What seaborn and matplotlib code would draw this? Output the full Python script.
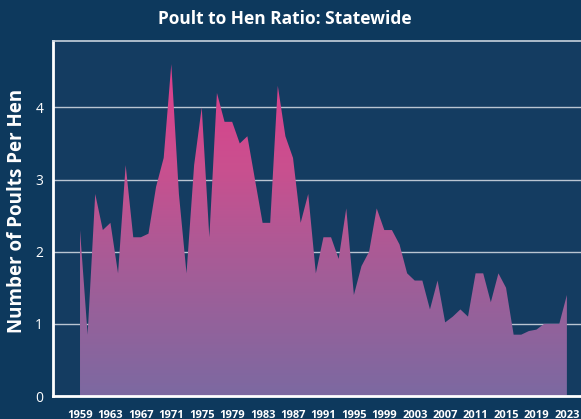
import numpy as np
import pandas as pd
import seaborn as sns
import matplotlib.pyplot as plt
from matplotlib.colors import LinearSegmentedColormap
from matplotlib.patches import Polygon

years = list(range(1959, 2024))
ratio = [2.3, 0.85, 2.8, 2.3, 2.4, 1.7, 3.2, 2.2, 2.2, 2.25,
         2.9, 3.3, 4.6, 2.8, 1.7, 3.2, 4.0, 2.2, 4.2, 3.8,
         3.8, 3.5, 3.6, 3.0, 2.4, 2.4, 4.3, 3.6, 3.3, 2.4,
         2.8, 1.7, 2.2, 2.2, 1.9, 2.6, 1.4, 1.8, 2.0, 2.6,
         2.3, 2.3, 2.1, 1.7, 1.6, 1.6, 1.2, 1.6, 1.02, 1.1,
         1.2, 1.1, 1.7, 1.7, 1.3, 1.7, 1.5, 0.85, 0.85, 0.9,
         0.92, 1.0, 1.0, 1.0, 1.4]
tick_years = list(range(1959, 2024, 4))
y_ticks = [0, 1, 2, 3, 4]

df = pd.DataFrame({"year": years, "ratio": ratio})

bg = "#0d395d"
panel = "#143c61"

sns.set_style("white")
plt.rcParams["font.family"] = ["Open Sans", "DejaVu Sans"]

fig = plt.figure(figsize=(5.81, 4.19), dpi=100, facecolor=bg)
ax = fig.add_axes([53 / 581, 23 / 419, (592 - 53) / 581, 355 / 419])
ax.set_facecolor(panel)

sns.lineplot(data=df, x="year", y="ratio", ax=ax, color="#d9448c", linewidth=0)

x0, x1 = 1955.45, 2026.3
y0, y1 = 0, 4.92

# gradient fill clipped to the area under the series
cmap = LinearSegmentedColormap.from_list("pk", ["#7c69a1", "#a05e98", "#c9508f", "#e03e8b"])
grad = np.linspace(0, 1, 256).reshape(-1, 1)
im = ax.imshow(grad, cmap=cmap, origin="lower", aspect="auto",
               extent=[df.year.min(), df.year.max(), 0, 4.7], zorder=2)
verts = [(df.year.iloc[0], 0)] + list(zip(df.year, df.ratio)) + [(df.year.iloc[-1], 0)]
poly = Polygon(verts, closed=True, facecolor="none", edgecolor="none")
ax.add_patch(poly)
im.set_clip_path(poly)
ax.set_xlim(x0, x1)
ax.set_ylim(y0, y1)

ax.set_yticks(y_ticks)
ax.set_xticks(tick_years)
ax.yaxis.grid(True, color="#b9c5d2", linewidth=1)
ax.set_axisbelow(True)
for sp in ["left", "bottom", "top"]:
    ax.spines[sp].set_color("white")
    ax.spines[sp].set_zorder(5)
ax.spines["left"].set_linewidth(2)
ax.spines["bottom"].set_linewidth(2)
ax.spines["top"].set_linewidth(1.2)
ax.spines["top"].set_color("#c8d2dd")
ax.spines["right"].set_visible(False)

ax.tick_params(axis="x", direction="inout", length=14, width=2, color="white",
               labelcolor="white", labelsize=8, pad=3)
for lb in ax.get_xticklabels():
    lb.set_fontweight("bold")
ax.tick_params(axis="y", length=0, labelcolor="white", labelsize=10, pad=7)

ax.set_xlabel("")
ax.set_ylabel("Number of Poults Per Hen", color="white", fontsize=13.5,
              fontweight="bold")
ax.yaxis.set_label_coords(-0.048, 0.522)
fig.text(0.49, 0.955, "Poult to Hen Ratio: Statewide", color="white",
         fontsize=12.5, fontweight="bold", ha="center", va="center")

fig.savefig("out.png", dpi=100, facecolor=bg)
